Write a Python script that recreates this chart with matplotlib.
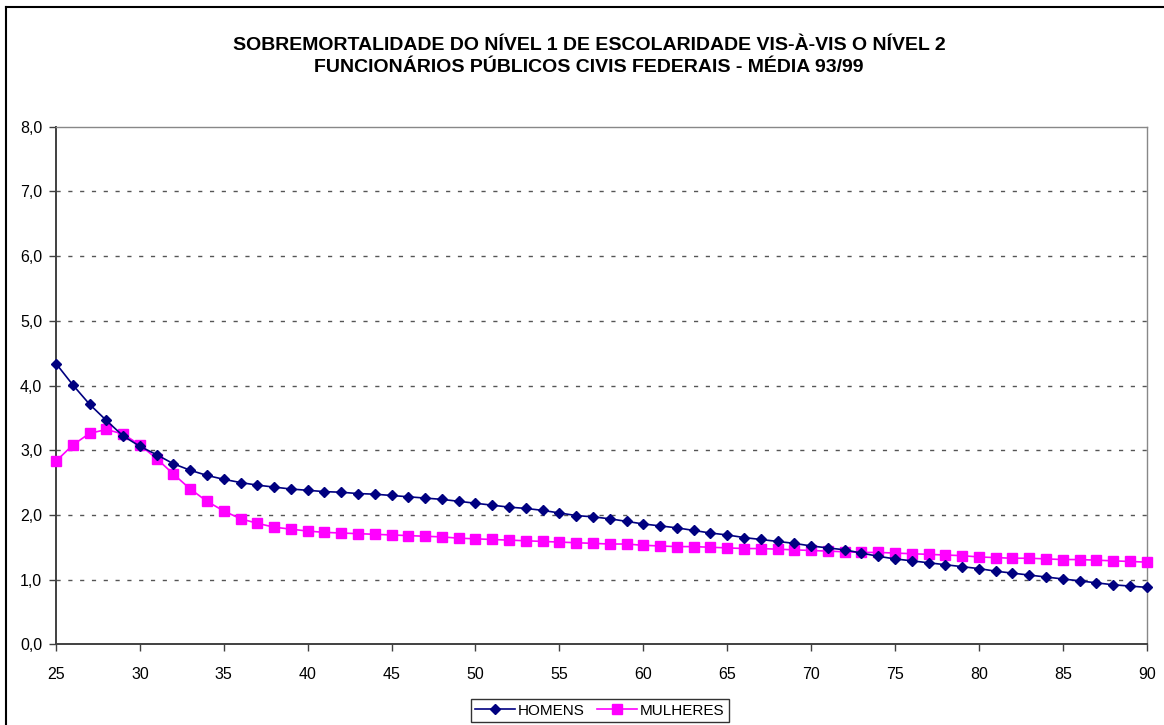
import numpy as np
import matplotlib
matplotlib.use("Agg")
from matplotlib import pyplot as plt
from matplotlib.lines import Line2D
from matplotlib.ticker import FuncFormatter, MultipleLocator

plt.rcParams['font.family'] = ['Liberation Sans', 'DejaVu Sans']

# idades 25 a 90
idade = np.arange(25, 91)

homens = [4.34, 4.01, 3.71, 3.46, 3.22, 3.06, 2.93, 2.79, 2.69, 2.61,
          2.55, 2.50, 2.46, 2.43, 2.40, 2.38, 2.36, 2.35, 2.33, 2.32,
          2.30, 2.28, 2.26, 2.24, 2.21, 2.18, 2.15, 2.12, 2.10, 2.07,
          2.03, 1.99, 1.97, 1.94, 1.90, 1.86, 1.83, 1.80, 1.76, 1.72,
          1.69, 1.65, 1.62, 1.59, 1.56, 1.52, 1.49, 1.46, 1.41, 1.36,
          1.32, 1.29, 1.26, 1.23, 1.20, 1.17, 1.13, 1.10, 1.07, 1.04,
          1.01, 0.98, 0.95, 0.92, 0.90, 0.88]

mulheres = [2.83, 3.08, 3.26, 3.32, 3.25, 3.08, 2.87, 2.63, 2.40, 2.21,
            2.06, 1.94, 1.87, 1.81, 1.78, 1.75, 1.73, 1.72, 1.71, 1.70,
            1.69, 1.68, 1.67, 1.66, 1.64, 1.63, 1.62, 1.61, 1.60, 1.59,
            1.58, 1.57, 1.56, 1.55, 1.55, 1.53, 1.52, 1.51, 1.51, 1.50,
            1.49, 1.48, 1.48, 1.47, 1.46, 1.45, 1.44, 1.43, 1.42, 1.42,
            1.41, 1.40, 1.39, 1.38, 1.37, 1.35, 1.34, 1.33, 1.33, 1.32,
            1.31, 1.31, 1.30, 1.29, 1.28, 1.27]

titulo = ("SOBREMORTALIDADE DO NÍVEL 1 DE ESCOLARIDADE VIS-À-VIS O NÍVEL 2\n"
          "FUNCIONÁRIOS PÚBLICOS CIVIS FEDERAIS - MÉDIA 93/99")

W, H = 1164, 725
fig = plt.figure(figsize=(W / 100, H / 100), dpi=100)
ax = fig.add_axes([56 / W, 1 - 644.3 / H, (1146.7 - 56) / W, (644.3 - 126.7) / H])

# moldura externa (cortada a direita e embaixo)
fig.add_artist(Line2D([6 / W, 6 / W], [0, 1 - 7 / H], color='black', lw=1.5))
fig.add_artist(Line2D([6 / W, 1], [1 - 7 / H, 1 - 7 / H], color='black', lw=1.5))

ax.plot(idade, homens, color='#000080', lw=1.2, marker='D', ms=5.5,
        label='HOMENS', clip_on=False, zorder=4)
ax.plot(idade, mulheres, color='#FF00FF', lw=1.2, marker='s', ms=6.5,
        label='MULHERES', clip_on=False, zorder=3)

ax.set_xlim(25, 90)
ax.set_ylim(0, 8)
ax.xaxis.set_major_locator(MultipleLocator(5))
ax.yaxis.set_major_locator(MultipleLocator(1))
ax.yaxis.set_major_formatter(FuncFormatter(lambda v, p: f"{v:.1f}".replace('.', ',')))

for g in range(1, 8):
    ax.axhline(g, color='#555555', lw=1.0, ls=(0, (3, 5.5)), zorder=1)

for s in ['left', 'bottom']:
    ax.spines[s].set_color('#404040')
    ax.spines[s].set_linewidth(1.4)
for s in ['top', 'right']:
    ax.spines[s].set_color('#888888')
    ax.spines[s].set_linewidth(1.0)

ax.tick_params(axis='x', direction='out', length=5, width=1, color='#404040',
               labelsize=11.5, pad=11)
ax.tick_params(axis='y', direction='out', length=5, width=1, color='#404040',
               labelsize=11.5, pad=5)

fig.text(589 / W, 1 - 56.5 / H, titulo, ha='center', va='center',
         fontsize=14, fontweight='bold', linespacing=1.35)

leg = fig.legend(loc='upper center', bbox_to_anchor=(600 / W, 1 - 699 / H),
                 ncol=2, frameon=True, fancybox=False, edgecolor='black',
                 fontsize=11, handlelength=2.6, handletextpad=0.2,
                 columnspacing=0.8, borderpad=0.3, borderaxespad=0)
leg.get_frame().set_linewidth(1.0)

fig.savefig("out.png", dpi=100)
